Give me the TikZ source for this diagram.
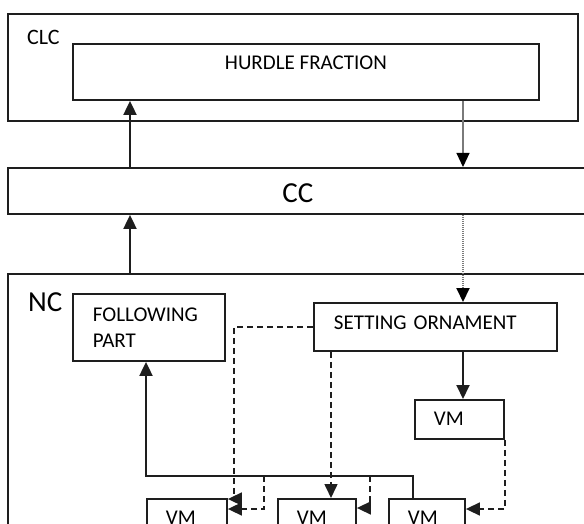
\documentclass[tikz,border=0pt]{standalone}
\usepackage{fontspec}
\setmainfont{Carlito}
\usepackage{tikz}
\usetikzlibrary{arrows.meta, positioning, calc}
\definecolor{linegray}{HTML}{1E1E1E}
\definecolor{wiregray}{HTML}{7A7A7A}

\begin{document}
\begin{tikzpicture}[x=1pt, y=-1pt,
  box/.style={draw=linegray, line width=1.9pt, inner sep=0pt, anchor=north west, text=black, font=\fontsize{21}{26}\selectfont},
  biglabel/.style={inner sep=0pt, anchor=west, text=black, font=\fontsize{29}{34}\selectfont},
  arr/.style={-{Triangle[width=13pt, length=14pt]}, line width=1.9pt, draw=linegray},
  thinarr/.style={-{Triangle[width=13pt, length=14pt, color=black]}, line width=1.1pt, draw=wiregray},
  dotarr/.style={thinarr, line width=2pt, dash pattern=on 1pt off 1pt},
  dasharr/.style={-{Triangle[width=13pt, length=14pt]}, line width=1.6pt, draw=linegray, dash pattern=on 6pt off 4pt}]
  \useasboundingbox (0,0) rectangle (584,524);
  \clip (0,0) rectangle (584,524);

  \node[box, minimum width=570pt, minimum height=107pt] (clc) at (7,13) {};
  \node[biglabel, font=\fontsize{22}{26}\selectfont] (clctext) at (27,37) {CLC};
  \node[box, minimum width=466pt, text height=25.8pt, text depth=30.2pt] (hurdle) at (72,43) {HURDLE FRACTION};
  \node[box, minimum width=580pt, text height=34.3pt, text depth=11.7pt, font=\fontsize{29}{34}\selectfont] (cc) at (7,167) {CC};
  \node[box, minimum width=590pt, minimum height=251.3pt] (nc) at (7,273) {};
  \node[biglabel] (nctext) at (28,302) {NC};
  \node[box, text width=112pt, inner xsep=20pt, align=left, minimum height=67pt] (fpart) at (72,293) {FOLLOWING\\PART};
  \node[box, text width=203pt, inner xsep=20pt, align=left, text height=26.8pt, text depth=21.2pt] (setting) at (313,302) {SETTING ORNAMENT};
  \node[box, text width=51pt, inner xsep=19pt, align=left, text height=25.8pt, text depth=13.2pt] (vmd) at (414,399) {VM};
  \node[box, fill=white, text width=42pt, inner xsep=19pt, align=left, text height=26pt, text depth=16pt] (vma) at (146,498) {VM};
  \node[box, fill=white, text width=40pt, inner xsep=19pt, align=left, text height=26pt, text depth=16pt] (vmb) at (277,498) {VM};
  \node[box, fill=white, text width=38pt, inner xsep=19pt, align=left, text height=26pt, text depth=16pt] (vmc) at (388,498) {VM};

  \coordinate (leftbus) at (130,0);
  \coordinate (rightbus) at (463,0);
  \coordinate (busr) at (413,476);
  \coordinate (dropa) at (234,499);
  \coordinate (dropb) at (331,0);
  \coordinate (taila) at (264,476);
  \coordinate (tailb) at (370,476);

  \draw[arr] (cc.north -| leftbus) -- (hurdle.south -| leftbus);
  \draw[thinarr] (hurdle.south -| rightbus) -- (cc.north -| rightbus);
  \draw[arr] (nc.north -| leftbus) -- (cc.south -| leftbus);
  \draw[dotarr] (cc.south -| rightbus) -- (setting.north -| rightbus);
  \draw[arr] (setting.south -| rightbus) -- (vmd.north -| rightbus);
  \draw[arr] (vmc.north -| busr) -- (busr) -| (fpart.south -| vma.west);
  \draw[dasharr] (setting.west) -| (dropa) -- (dropa -| vma.east);
  \draw[dasharr] (setting.south -| dropb) -- (vmb.north -| dropb);
  \draw[dasharr] (taila) |- ($(vma.north east)+(0,11)$);
  \draw[dasharr] (tailb) |- ($(vmb.north east)+(0,10)$);
  \draw[dasharr] (vmd.south east) |- ($(vmc.north east)+(0,11)$);
\end{tikzpicture}
\end{document}
